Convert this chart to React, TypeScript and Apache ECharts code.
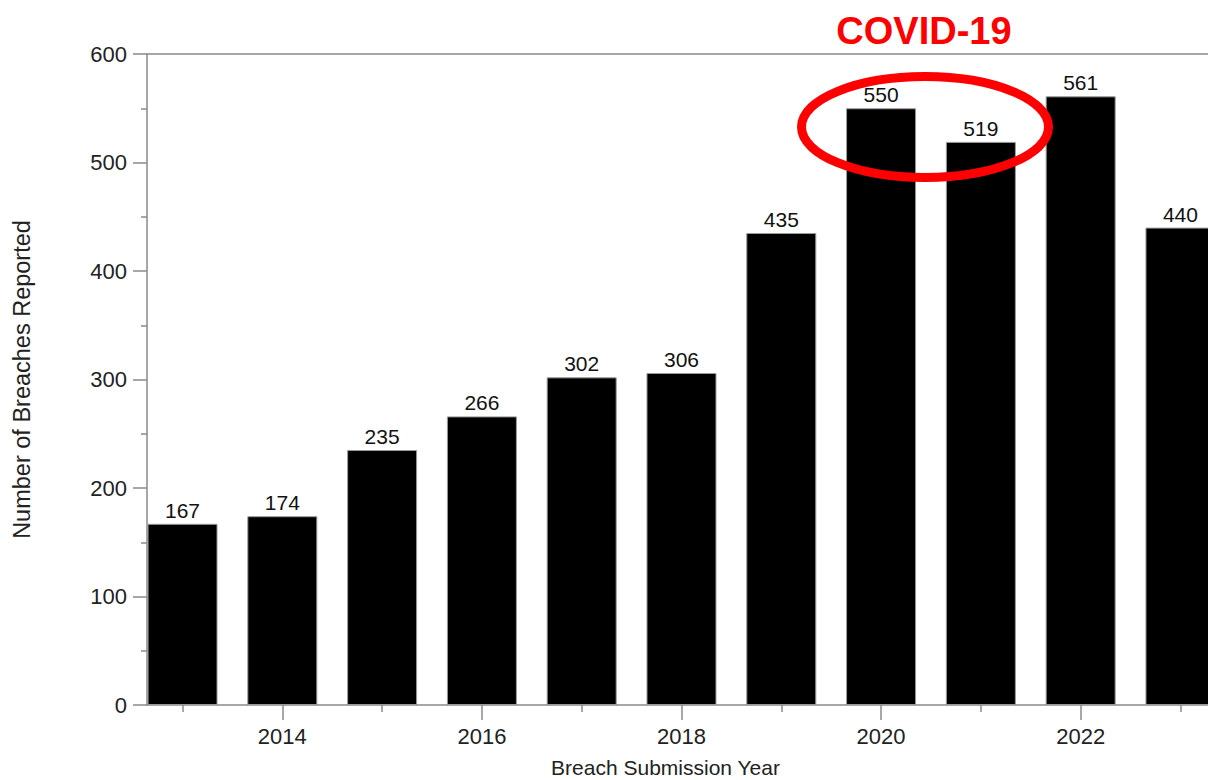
import React, { useEffect, useRef } from "react";
import * as echarts from "echarts";

const years = [2013, 2014, 2015, 2016, 2017, 2018, 2019, 2020, 2021, 2022, 2023];
const breaches = [167, 174, 235, 266, 302, 306, 435, 550, 519, 561, 440];
const labeledYears = [2014, 2016, 2018, 2020, 2022];
const minorYears = [2013, 2015, 2017, 2019, 2021, 2023];
const yTitle = "Number of Breaches Reported";
const xTitle = "Breach Submission Year";
const annotation = "COVID-19";

const AXIS_COLOR = "#8a8a8a";
const FONT = "'Liberation Sans', Arial, Helvetica, sans-serif";
const X_MIN = 2012.644;
const X_MAX = 2023.276;

export default function App() {
  const ref = useRef<HTMLDivElement>(null);
  useEffect(() => {
    document.body.style.margin = "0";
    const chart = echarts.init(ref.current!, null, { renderer: "svg" });
    const data = years.map((y, i) => [y, breaches[i]]);
    chart.setOption({
      animation: false,
      textStyle: { fontFamily: FONT },
      grid: { left: 147, right: 0, top: 54, bottom: 75, outerBoundsMode: "none", containLabel: false },
      xAxis: [
        {
          type: "value",
          min: X_MIN,
          max: X_MAX,
          position: "bottom",
          splitLine: { show: false },
          axisLine: { show: true, lineStyle: { color: AXIS_COLOR, width: 1.5 } },
          axisTick: { show: true, customValues: labeledYears, length: 15, lineStyle: { color: AXIS_COLOR, width: 1.5 } },
          axisLabel: {
            customValues: labeledYears,
            fontSize: 22,
            margin: 20,
            color: "#222",
            fontFamily: FONT,
            formatter: (v: number) => String(v),
          },
          name: xTitle,
          nameLocation: "middle",
          nameGap: 52,
          nameTextStyle: { fontSize: 21, color: "#222", fontFamily: FONT, padding: [0, 24, 0, 0] },
        },
        {
          type: "value",
          min: X_MIN,
          max: X_MAX,
          position: "bottom",
          splitLine: { show: false },
          axisLine: { show: false },
          axisTick: { show: true, customValues: minorYears, length: 7, lineStyle: { color: AXIS_COLOR, width: 1.5 } },
          axisLabel: { show: false },
        },
        {
          type: "value",
          min: X_MIN,
          max: X_MAX,
          position: "top",
          splitLine: { show: false },
          axisLine: { show: true, lineStyle: { color: AXIS_COLOR, width: 1.5 } },
          axisTick: { show: false },
          axisLabel: { show: false },
        },
      ],
      yAxis: {
        type: "value",
        min: 0,
        max: 600,
        interval: 100,
        splitLine: { show: false },
        axisLine: { show: true, lineStyle: { color: AXIS_COLOR, width: 1.5 } },
        axisTick: { show: true, length: 14, lineStyle: { color: AXIS_COLOR, width: 1.5 } },
        minorTick: { show: true, splitNumber: 2, length: 6, lineStyle: { color: AXIS_COLOR, width: 1.5 } },
        axisLabel: { fontSize: 22, margin: 20, color: "#222", fontFamily: FONT },
        name: yTitle,
        nameLocation: "middle",
        nameGap: 113,
        nameTextStyle: { fontSize: 23.5, color: "#222", fontFamily: FONT },
      },
      series: [
        {
          type: "bar",
          xAxisIndex: 0,
          data,
          barWidth: 70,
          itemStyle: { color: "#000", borderColor: "#9a9a9a", borderWidth: 1 },
          label: {
            show: true,
            position: "top",
            distance: 3,
            fontSize: 21,
            color: "#111",
            fontFamily: FONT,
          },
        },
      ],
      graphic: [
        {
          type: "text",
          x: 924,
          y: 31,
          style: {
            text: annotation,
            fill: "#ff0000",
            font: `bold 38px ${FONT}`,
            align: "center",
            verticalAlign: "middle",
          },
          z: 100,
        },
        {
          type: "ellipse",
          shape: { cx: 925, cy: 127, rx: 123.5, ry: 50.5 },
          style: { fill: "none", stroke: "#ff0000", lineWidth: 9 },
          z: 100,
        },
      ],
    });
    return () => chart.dispose();
  }, []);
  return <div ref={ref} style={{ width: 1208, height: 780 }} />;
}
